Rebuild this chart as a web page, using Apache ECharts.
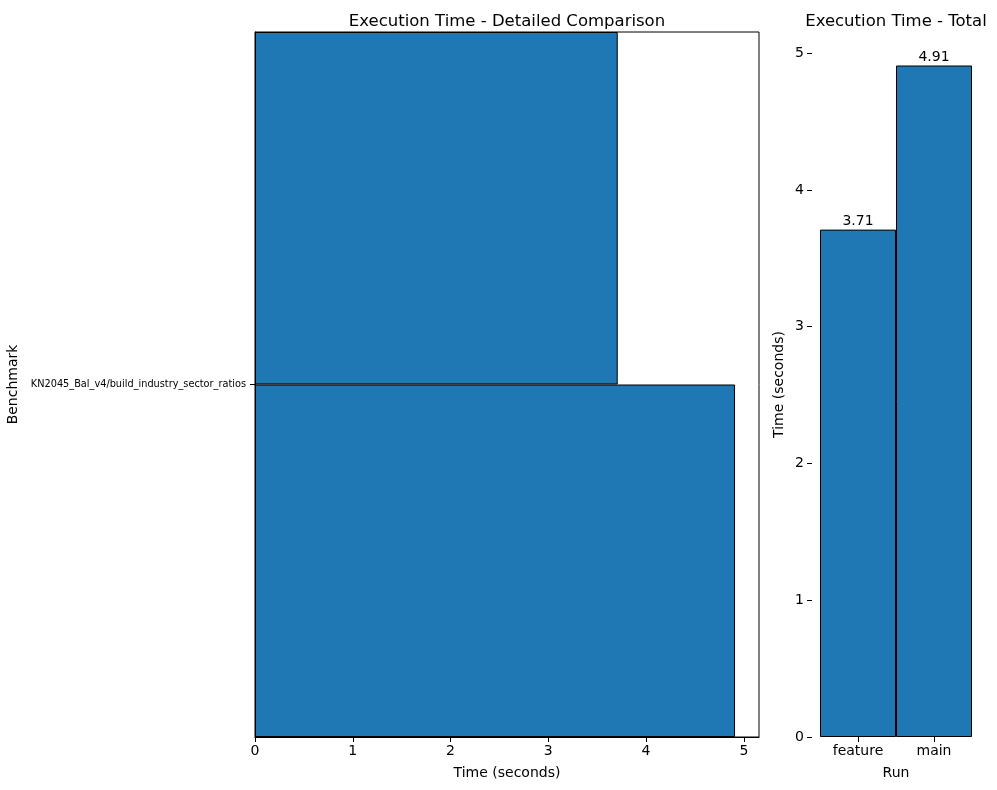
<!DOCTYPE html>
<html><head><meta charset="utf-8">
<script src="https://cdn.jsdelivr.net/npm/echarts@6/dist/echarts.min.js"></script>
<style>html,body{margin:0;padding:0;background:#fff}#c{width:997px;height:790px}</style>
</head><body><div id="c"></div>
<script>
const benchmarks = ['KN2045_Bal_v4/build_industry_sector_ratios'];
const runs = ['feature', 'main'];
const featureTimes = [3.71];
const mainTimes = [4.91];
const totals = [3.71, 4.91];
const ticks = [0, 1, 2, 3, 4, 5];

const F = 'DejaVu Sans';
const blue = '#1f77b4';
const chart = echarts.init(document.getElementById('c'), null, {renderer: 'canvas'});
const txt = {color: '#000', fontFamily: F};
chart.setOption({
  animation: false,
  title: [
    {text: 'Execution Time - Detailed Comparison', left: 502, top: 8, textAlign: 'center',
     textStyle: {...txt, fontSize: 16.5, fontWeight: 'normal'}},
    {text: 'Execution Time - Total', left: 891, top: 8, textAlign: 'center',
     textStyle: {...txt, fontSize: 16.5, fontWeight: 'normal'}}
  ],
  grid: [
    {left: 255, top: 32, width: 504, height: 705, show: true, borderColor: '#000', borderWidth: 1,
     backgroundColor: 'transparent', containLabel: false, outerBoundsMode: 'none'},
    {left: 820, top: 32, width: 152, height: 705, containLabel: false, outerBoundsMode: 'none'}
  ],
  xAxis: [
    {type: 'value', gridIndex: 0, min: 0, max: 5.155, interval: 1,
     name: 'Time (seconds)', nameLocation: 'middle', nameGap: 29, nameTextStyle: {...txt, fontSize: 14},
     axisLine: {show: true, lineStyle: {color: '#000'}},
     axisTick: {show: true, length: 5, lineStyle: {color: '#000'}, customValues: ticks},
     axisLabel: {...txt, fontSize: 14, margin: 7, customValues: ticks},
     splitLine: {show: false}},
    {type: 'category', gridIndex: 1, data: runs, boundaryGap: true,
     name: 'Run', nameLocation: 'middle', nameGap: 29, nameTextStyle: {...txt, fontSize: 14},
     axisLine: {show: false},
     axisTick: {show: true, alignWithLabel: true, length: 5, lineStyle: {color: '#000'}},
     axisLabel: {...txt, fontSize: 14, margin: 7}}
  ],
  yAxis: [
    {type: 'category', gridIndex: 0, data: benchmarks, boundaryGap: true,
     name: 'Benchmark', nameLocation: 'middle', nameGap: 227, nameTextStyle: {...txt, fontSize: 14},
     axisLine: {show: true, lineStyle: {color: '#000'}},
     axisTick: {show: true, alignWithLabel: true, length: 5, lineStyle: {color: '#000'}},
     axisLabel: {...txt, fontSize: 9.75, margin: 9}},
    {type: 'value', gridIndex: 1, min: 0, max: 5.155, interval: 1, offset: 8,
     name: 'Time (seconds)', nameLocation: 'middle', nameGap: 26, nameTextStyle: {...txt, fontSize: 14},
     axisLine: {show: false},
     axisTick: {show: true, length: 5, lineStyle: {color: '#000'}, customValues: ticks},
     axisLabel: {...txt, fontSize: 14, margin: 8, customValues: ticks},
     splitLine: {show: false}}
  ],
  series: [
    {type: 'bar', name: 'feature', xAxisIndex: 0, yAxisIndex: 0, data: featureTimes,
     barGap: '0%', barCategoryGap: '0%',
     itemStyle: {color: blue, borderColor: '#000', borderWidth: 1}},
    {type: 'bar', name: 'main', xAxisIndex: 0, yAxisIndex: 0, data: mainTimes,
     barGap: '0%', barCategoryGap: '0%',
     itemStyle: {color: blue, borderColor: '#000', borderWidth: 1}},
    {type: 'bar', name: 'total', xAxisIndex: 1, yAxisIndex: 1, data: totals,
     barCategoryGap: '0%',
     itemStyle: {color: blue, borderColor: '#000', borderWidth: 1},
     label: {show: true, position: 'top', distance: 1, ...txt, fontSize: 14, formatter: p => p.value.toFixed(2)}}
  ]
});
</script></body></html>
